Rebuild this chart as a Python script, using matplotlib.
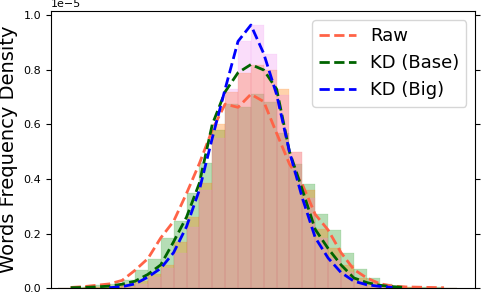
import numpy as np
import matplotlib
matplotlib.use('Agg')
import matplotlib.pyplot as plt

nan = np.nan

# bin index (left edge of each histogram bin)
bins = list(range(31))

# word frequency density (x 1e-5) per bin
raw = [nan, 0.002, 0.005, 0.010, 0.015, 0.028, 0.065, 0.108, 0.184, 0.245, 0.347, 0.457, 0.58, 0.675, 0.663, 0.711,
       0.684, 0.568, 0.455, 0.38, 0.27, 0.213, 0.13, 0.068, 0.037, 0.016, 0.007, 0.004, 0.003, 0.002, 0.001]
kd_base = [nan, 0.001, 0.002, 0.004, 0.007, 0.014, 0.025, 0.05, 0.085, 0.17, 0.26, 0.385, 0.6, 0.72, 0.79, 0.82,
           0.80, 0.73, 0.50, 0.36, 0.215, 0.145, 0.085, 0.037, 0.02, 0.01, 0.005, 0.002, nan, nan, nan]
kd_big = [nan, nan, nan, nan, 0.001, 0.005, 0.015, 0.04, 0.072, 0.13, 0.225, 0.36, 0.55, 0.73, 0.905, 0.965,
          0.86, 0.71, 0.50, 0.33, 0.185, 0.11, 0.057, 0.025, 0.012, 0.006, 0.002, nan, nan, nan, nan]

labels = ['Raw', 'KD (Base)', 'KD (Big)']
line_colors = ['tomato', 'darkgreen', 'blue']
hist_colors = ['tab:green', 'tab:orange', 'violet']
hist_alpha = [0.35, 0.35, 0.27]

fig = plt.figure(figsize=(4.82, 2.94), dpi=100)
ax = fig.add_axes([0.1052, 0.0204, 0.8813, 0.9422])

series = [raw, kd_base, kd_big]
for vals, c, a in zip(series, hist_colors, hist_alpha):
    h = np.nan_to_num(np.array(vals, dtype=float)) * 1e-5
    ax.bar(bins, h, width=1, align='edge', color=c, alpha=a, edgecolor=c, linewidth=0.25)

for vals, c, lab in zip(series, line_colors, labels):
    ax.plot(bins, np.array(vals, dtype=float) * 1e-5, '--', color=c, lw=2, label=lab)

ax.set_xlim(-0.55, 32.45)
ax.set_ylim(0, 1.0165e-5)
ax.set_xticks([])
ax.tick_params(axis='y', labelsize=8, right=True)
ax.yaxis.get_offset_text().set_fontsize(8)
ax.set_ylabel('Words Frequency Density', fontsize=14)
ax.legend(loc='upper right', fontsize=13)

plt.savefig('out.png', dpi=100)
